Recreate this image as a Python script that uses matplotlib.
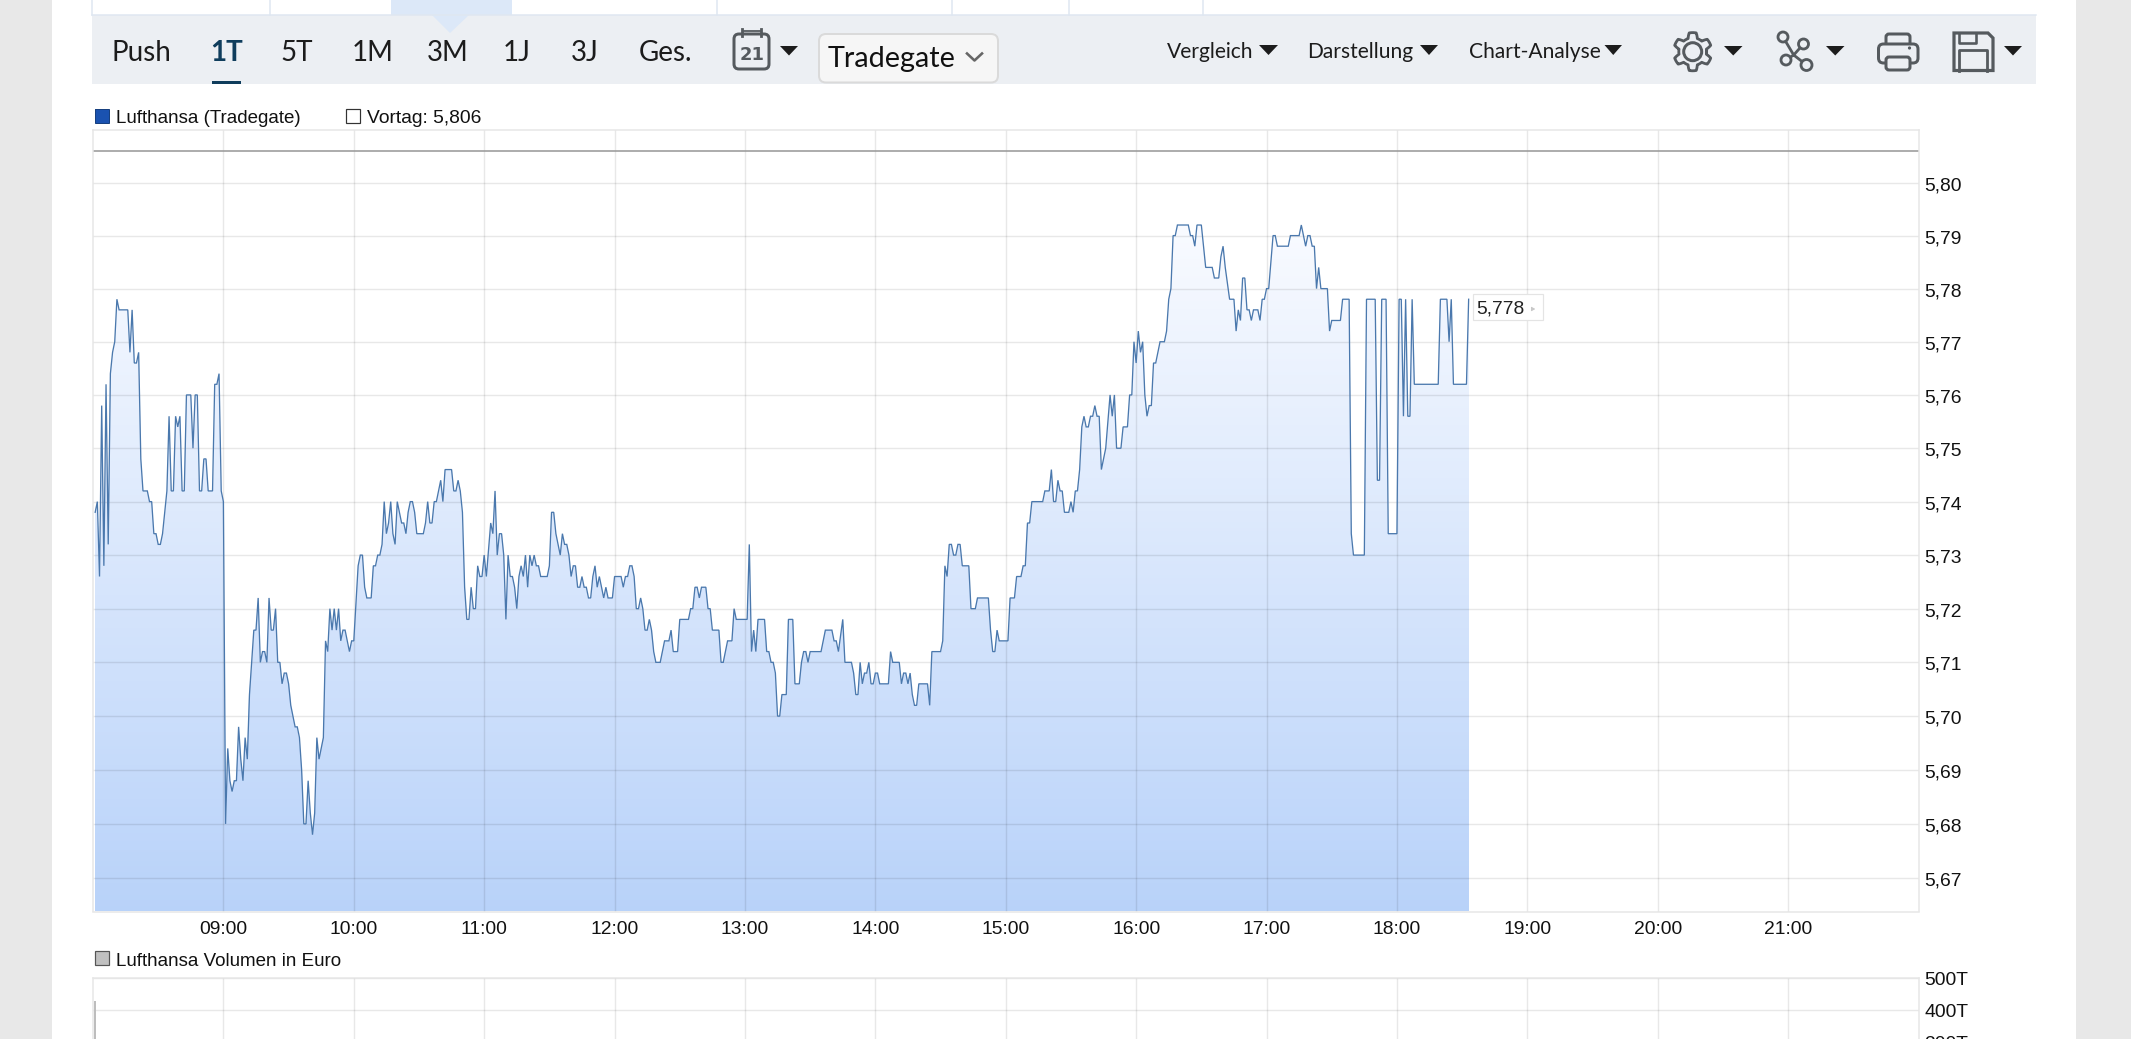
import numpy as np
import matplotlib
matplotlib.use("Agg")
from matplotlib import pyplot as plt
from matplotlib.colors import LinearSegmentedColormap
from matplotlib.patches import Rectangle, Polygon, FancyBboxPatch, Circle
from matplotlib.ticker import FuncFormatter, FixedLocator, NullLocator
from matplotlib.transforms import ScaledTranslation

# minutes after 08:00
minutes = [
    1, 2, 3, 4, 5, 6, 7, 8, 9, 10,
    11, 12, 16, 17, 18, 19, 20, 21, 22, 23,
    25, 26, 27, 28, 29, 30, 31, 32, 33, 34,
    35, 36, 37, 38, 39, 40, 41, 42, 43, 45,
    46, 47, 48, 49, 50, 51, 52, 53, 55, 56,
    57, 58, 59, 60,
    61, 62, 63, 64, 65, 66, 67, 68, 69, 70,
    71, 72, 73, 74, 75, 76, 77, 78, 79, 80,
    81, 82, 83, 84, 85, 86, 87, 88, 89, 90,
    91, 92, 93, 94, 95, 96, 97, 98, 99, 100,
    101, 102, 103, 104, 105, 106, 107, 108, 109, 110,
    111, 112, 113, 114, 115, 116, 117, 118, 119, 120,
    122, 123, 124, 125, 126, 128, 129, 130, 131, 132,
    133, 134, 135, 136, 137, 138, 139, 140, 141, 142,
    143, 144, 145, 146, 147, 148, 149, 152, 153, 154,
    155, 156, 157, 158, 159, 160, 161, 162, 165, 166,
    167, 168, 169, 170, 171, 172, 173, 174, 175, 176,
    177, 178, 179,
    180, 181, 183, 184, 185, 186, 187, 188, 189, 190,
    191, 192, 193, 194, 195, 196, 197, 198, 199, 200,
    201, 202, 203, 204, 205, 206, 209, 210, 211, 212,
    213, 215, 216, 217, 218, 219, 220, 221, 222, 223,
    224, 225, 226, 227, 228, 229, 230, 231, 232, 233,
    234, 235, 236, 237, 239, 240, 243, 244, 245, 246,
    247, 248, 249, 250, 251, 252, 253, 254, 255, 256,
    257, 258, 259, 261, 262, 263, 265, 266, 267, 269,
    270, 274, 275, 276, 277, 278, 279, 280, 282, 283,
    284, 285, 288, 289, 290, 291, 292, 294, 295, 296,
    301, 302, 303, 304, 305, 306, 309, 310, 311, 312,
    313, 314, 315, 316, 317, 319, 320, 322, 323, 325,
    326, 327, 328, 329, 330, 335, 336, 337, 340, 341,
    342, 343, 345, 346, 349, 350, 351, 352, 353, 354,
    355, 356, 357, 358, 359, 360, 361, 362, 366, 367,
    368, 371, 372, 373, 374, 375, 376, 377, 378, 379,
    380, 384, 385, 386, 390, 391, 392, 393, 394, 395,
    396, 397, 398, 399,
    400, 403, 404, 406, 407, 412, 413, 414, 415, 416,
    417, 421, 422, 424, 425, 427, 428, 429, 430, 431,
    432, 437, 438, 440, 441, 442, 443, 444, 445, 446,
    447, 449, 450, 451, 452, 453, 454, 455, 456, 457,
    458, 459, 460, 461, 462, 463, 464, 466, 468, 469,
    470, 471, 473, 474, 476, 477, 478, 479, 480, 481,
    482, 483, 484, 485, 486, 487, 488, 489, 490, 491,
    493, 494, 495, 496, 497, 498, 499, 504, 505, 506,
    507, 508, 510, 511, 512, 515, 516, 518, 519, 520,
    521, 523, 525, 526, 527, 528, 529, 530, 531, 532,
    533, 534, 536, 537, 538, 539, 540, 541, 543, 544,
    545, 550, 551, 555, 556, 557, 558, 559, 560, 561,
    562, 563, 564, 565, 568, 569, 570, 574, 575, 578,
    579, 580, 585, 586, 590, 591, 592, 593, 595, 596,
    600, 601, 602, 603, 604, 605, 606, 607, 608, 619,
    620, 623, 624, 625, 626, 632, 633,
]
prices = [
    5.738, 5.74, 5.726, 5.758, 5.728, 5.762, 5.732, 5.764, 5.768, 5.77,
    5.778, 5.776, 5.776, 5.768, 5.776, 5.766, 5.766, 5.768, 5.748, 5.742,
    5.742, 5.74, 5.74, 5.734, 5.734, 5.732, 5.732, 5.734, 5.738, 5.742,
    5.756, 5.742, 5.742, 5.756, 5.754, 5.756, 5.742, 5.742, 5.76, 5.76,
    5.75, 5.76, 5.76, 5.742, 5.742, 5.748, 5.748, 5.742, 5.742, 5.762,
    5.762, 5.764, 5.742, 5.74,
    5.68, 5.694, 5.688, 5.686, 5.688, 5.688, 5.698, 5.692, 5.688, 5.696,
    5.692, 5.704, 5.71, 5.716, 5.716, 5.722, 5.71, 5.712, 5.712, 5.71,
    5.722, 5.716, 5.716, 5.72, 5.71, 5.71, 5.706, 5.708, 5.708, 5.706,
    5.702, 5.70, 5.698, 5.698, 5.696, 5.69, 5.68, 5.68, 5.688, 5.682,
    5.678, 5.682, 5.696, 5.692, 5.694, 5.696, 5.714, 5.712, 5.72, 5.716,
    5.72, 5.716, 5.72, 5.714, 5.716, 5.716, 5.714, 5.712, 5.714, 5.714,
    5.728, 5.73, 5.73, 5.724, 5.722, 5.722, 5.728, 5.728, 5.73, 5.73,
    5.732, 5.74, 5.734, 5.736, 5.74, 5.734, 5.732, 5.74, 5.738, 5.736,
    5.736, 5.734, 5.738, 5.74, 5.74, 5.738, 5.734, 5.734, 5.736, 5.74,
    5.736, 5.736, 5.74, 5.74, 5.742, 5.744, 5.74, 5.746, 5.746, 5.742,
    5.742, 5.744, 5.742, 5.738, 5.724, 5.718, 5.718, 5.724, 5.72, 5.72,
    5.728, 5.726, 5.726,
    5.73, 5.726, 5.736, 5.734, 5.742, 5.73, 5.734, 5.734, 5.73, 5.718,
    5.73, 5.726, 5.726, 5.724, 5.72, 5.726, 5.728, 5.726, 5.73, 5.724,
    5.73, 5.728, 5.73, 5.728, 5.728, 5.726, 5.726, 5.728, 5.738, 5.738,
    5.734, 5.73, 5.734, 5.732, 5.732, 5.73, 5.726, 5.728, 5.728, 5.724,
    5.724, 5.726, 5.724, 5.724, 5.722, 5.722, 5.726, 5.728, 5.724, 5.726,
    5.724, 5.722, 5.724, 5.722, 5.722, 5.726, 5.726, 5.724, 5.726, 5.726,
    5.728, 5.728, 5.726, 5.72, 5.72, 5.722, 5.72, 5.716, 5.716, 5.718,
    5.716, 5.712, 5.71, 5.71, 5.712, 5.714, 5.714, 5.716, 5.712, 5.712,
    5.718, 5.718, 5.72, 5.72, 5.724, 5.724, 5.722, 5.724, 5.724, 5.72,
    5.72, 5.716, 5.716, 5.71, 5.71, 5.712, 5.714, 5.714, 5.72, 5.718,
    5.718, 5.732, 5.712, 5.716, 5.712, 5.718, 5.718, 5.712, 5.712, 5.71,
    5.71, 5.708, 5.70, 5.70, 5.704, 5.704, 5.718, 5.718, 5.706, 5.706,
    5.71, 5.712, 5.712, 5.71, 5.712, 5.712, 5.714, 5.716, 5.716, 5.714,
    5.714, 5.712, 5.718, 5.71, 5.71, 5.708, 5.704, 5.704, 5.71, 5.706,
    5.708, 5.708, 5.71, 5.706, 5.706, 5.708, 5.708, 5.706, 5.706, 5.712,
    5.71, 5.71, 5.706, 5.708, 5.708, 5.706, 5.708, 5.704, 5.702, 5.702,
    5.706, 5.706, 5.702, 5.712, 5.712, 5.714, 5.728, 5.726, 5.732, 5.732,
    5.73, 5.73, 5.732, 5.732,
    5.728, 5.728, 5.72, 5.72, 5.722, 5.722, 5.716, 5.712, 5.712, 5.716,
    5.714, 5.714, 5.722, 5.722, 5.726, 5.726, 5.728, 5.728, 5.736, 5.736,
    5.74, 5.74, 5.742, 5.742, 5.746, 5.74, 5.74, 5.744, 5.742, 5.742,
    5.738, 5.738, 5.74, 5.738, 5.742, 5.742, 5.746, 5.754, 5.756, 5.754,
    5.754, 5.756, 5.756, 5.758, 5.756, 5.756, 5.746, 5.75, 5.76, 5.756,
    5.76, 5.75, 5.75, 5.754, 5.754, 5.76, 5.76, 5.77, 5.766, 5.772,
    5.768, 5.77, 5.76, 5.756, 5.758, 5.758, 5.766, 5.766, 5.768, 5.77,
    5.77, 5.772, 5.778, 5.78, 5.79, 5.79, 5.792, 5.792, 5.79, 5.79,
    5.788, 5.792, 5.792, 5.788, 5.784, 5.784, 5.782, 5.782, 5.786, 5.788,
    5.784, 5.778, 5.778, 5.772, 5.776, 5.774, 5.782, 5.782, 5.776, 5.776,
    5.774, 5.776, 5.776, 5.774, 5.778, 5.778, 5.78, 5.78, 5.79, 5.79,
    5.788, 5.788, 5.79, 5.79, 5.792, 5.79, 5.788, 5.79, 5.79, 5.788,
    5.788, 5.78, 5.784, 5.78, 5.78, 5.772, 5.774, 5.774, 5.778, 5.778,
    5.734, 5.73, 5.73, 5.778, 5.778, 5.744, 5.744, 5.778, 5.778, 5.734,
    5.734, 5.778, 5.778, 5.756, 5.778, 5.756, 5.756, 5.778, 5.762, 5.762,
    5.778, 5.778, 5.77, 5.778, 5.762, 5.762, 5.778,
]
y_ticks = [5.67, 5.68, 5.69, 5.70, 5.71, 5.72, 5.73, 5.74, 5.75, 5.76, 5.77, 5.78, 5.79, 5.80]
x_ticks = [60 * i for i in range(1, 14)]  # 09:00 ... 21:00
vortag = 5.806
last_price = "5,778"

volume_minutes = [1]
volume_values = [427]
volume_ticks = [300, 400, 500]

menu_left = ["Push", "1T", "5T", "1M", "3M", "1J", "3J", "Ges."]
menu_left_x = [112, 210.5, 280.5, 352, 426.5, 503, 571, 639]
menu_right = ["Vergleich", "Darstellung", "Chart-Analyse"]
menu_right_x = [1167, 1307, 1468.5]

W, H = 2131, 1039
CHART = "Liberation Sans"
MENU = "Lato"
ICON = "#555a5e"
px = 0.72  # one pixel in points at dpi 100

fig = plt.figure(figsize=(W / 100, H / 100), dpi=100, facecolor="white")


def axes_px(left, top, right, bottom):
    return fig.add_axes([left / W, 1 - bottom / H, (right - left) / W, (bottom - top) / H])


# page furniture, drawn in pixel coordinates
bg = axes_px(0, 0, W, H)
bg.set_xlim(0, W)
bg.set_ylim(H, 0)
bg.axis("off")


def rect(x0, y0, x1, y1, color, **kw):
    bg.add_patch(Rectangle((x0, y0), x1 - x0, y1 - y0, facecolor=color, edgecolor="none", **kw))


def tri(x0, x1, y0, y1, color="#1c1c1c"):
    bg.add_patch(Polygon([(x0, y0), (x1, y0), ((x0 + x1) / 2, y1)], facecolor=color, edgecolor="none"))


def round_box(x0, y0, x1, y1, r, ec=ICON, fc="none", lw=2.2, z=3):
    bg.add_patch(FancyBboxPatch((x0 + r, y0 + r), x1 - x0 - 2 * r, y1 - y0 - 2 * r,
                                boxstyle="round,pad=%f,rounding_size=%f" % (r, r),
                                ec=ec, fc=fc, lw=lw * px, zorder=z))


rect(0, 0, 52, H, "#e8e8e8")
rect(2076, 0, W, H, "#e8e8e8")

# tab row cut off at the top
rect(390.5, 0, 512, 15, "#dce8f8")
for x in [92, 270, 717, 952, 1069, 1203]:
    bg.plot([x, x], [0, 15], color="#dfe7f1", lw=1.5 * px)
bg.plot([92, 2036], [15, 15], color="#dfe7f1", lw=1.5 * px)

# toolbar
rect(92, 15, 2036, 84, "#eceff3")
bg.add_patch(Polygon([(432, 15), (469, 15), (450, 33)], facecolor="#dce8f8", edgecolor="none"))
for label, x in zip(menu_left, menu_left_x):
    c = "#0f3d5c" if label == "1T" else "#1c1c1c"
    bg.text(x, 53, label, family=MENU, fontsize=27.8 * px, color=c, va="center", ha="left",
            fontweight="bold" if label == "1T" else "normal")
rect(211.5, 81, 241, 84, "#0f3d5c")
for label, x in zip(menu_right, menu_right_x):
    bg.text(x, 52.5, label, family=MENU, fontsize=21 * px, color="#1c1c1c", va="center", ha="left")
for x0, x1 in [(1259, 1278), (1420, 1438), (1604.5, 1622)]:
    tri(x0, x1, 45, 55)
for x0, x1 in [(780, 798), (1724, 1742.5), (1826, 1844.5), (2004, 2022)]:
    tri(x0, x1, 46, 55.5)

# calendar icon
round_box(734, 34, 769, 69, 5, lw=3)
bg.plot([743, 760], [31, 31], color=ICON, lw=1.8 * px)
for x in [742, 761]:
    bg.plot([x, x], [29, 36], color=ICON, lw=2.8 * px)
bg.text(751.7, 54.5, "21", family="DejaVu Sans", fontweight="bold", fontsize=18 * px, color=ICON,
        ha="center", va="center", zorder=4)

# exchange selector
round_box(819, 34, 998, 82.5, 7, ec="#dadada", fc="#f6f6f6", lw=2)
bg.text(828, 59.5, "Tradegate", family=MENU, fontsize=28.8 * px, color="#111111", va="center", ha="left", zorder=4)
bg.plot([967, 974.5, 982], [53.5, 60.5, 53.5], color="#666666", lw=2.6 * px, zorder=4)

# gear
cx, cy = 1692.7, 51.7
ang = np.linspace(0, 2 * np.pi, 241)
rad = 16.5 + 2.6 * np.clip(2.2 * np.cos(6 * (ang + np.pi / 2)), -1, 1)
bg.plot(cx + rad * np.cos(ang), cy + rad * np.sin(ang), color=ICON, lw=2.8 * px)
bg.add_patch(Circle((cx, cy), 9, fc="none", ec=ICON, lw=3 * px))

# share icon
nodes = [(1783, 37, 5), (1803.5, 44, 5), (1786, 60, 5), (1806.5, 65, 5.5)]
for nx, ny, nr in nodes:
    bg.plot([1793.7, nx], [55, ny], color=ICON, lw=2.8 * px, zorder=2)
    bg.add_patch(Circle((nx, ny), nr, fc="#eceff3", ec=ICON, lw=2.8 * px, zorder=3))

# printer
round_box(1886, 34, 1910, 50, 3, lw=3, z=2)
round_box(1878.5, 44, 1918, 63, 5, fc="#eceff3", lw=3, z=3)
round_box(1886, 57, 1910, 70, 3, fc="#eceff3", lw=3, z=4)
bg.add_patch(Circle((1909.5, 48), 1.6, fc=ICON, ec="none", zorder=5))

# floppy
bg.add_patch(Polygon([(1954, 33), (1988, 33), (1993, 38), (1993, 70.5), (1954, 70.5)],
                     fc="none", ec=ICON, lw=3.2 * px))
bg.plot([1959, 1959, 1976, 1976], [33, 42.5, 42.5, 33], color=ICON, lw=2.6 * px)
bg.plot([1959, 1959, 1987, 1987], [70.5, 50, 50, 70.5], color=ICON, lw=2.8 * px)

# legends
rect(94.5, 109, 109, 123, "#1a52b0")
bg.add_patch(Rectangle((94.5, 109), 14.5, 14, fc="none", ec="#17407f", lw=1 * px))
bg.text(116.5, 118.5, "Lufthansa (Tradegate)", family=CHART, fontsize=18.8 * px, color="#111111", va="center")
bg.add_patch(Rectangle((346, 109), 14, 14, fc="white", ec="#333333", lw=1.2 * px))
bg.text(367, 118.5, "Vortag: 5,806", family=CHART, fontsize=19.3 * px, color="#111111", va="center")
bg.add_patch(Rectangle((95, 951), 13.5, 14, fc="#c0c0c0", ec="#555555", lw=1.2 * px))
bg.text(116.5, 961, "Lufthansa Volumen in Euro", family=CHART, fontsize=18.8 * px, color="#111111", va="center")


def style_axes(ax):
    ax.set_xlim(0, 840)
    ax.xaxis.set_major_locator(FixedLocator(x_ticks))
    ax.grid(True, color="black", alpha=0.09, lw=1.4 * px)
    ax.set_axisbelow("line")
    for s in ax.spines.values():
        s.set_color("#e6e6e6")
        s.set_linewidth(1.5 * px)
    ax.yaxis.tick_right()
    ax.tick_params(length=0, labelsize=19.3 * px, labelcolor="#111111")
    for t in ax.get_xticklabels() + ax.get_yticklabels():
        t.set_fontfamily(CHART)


# price panel, the gridlines widen downwards so the axis is logarithmic
ax = axes_px(93, 130, 1918.5, 911.5)
ax.set_zorder(1)
ymin, ymax = 5.6638, 5.80997
ax.set_yscale("log")
ax.set_ylim(ymin, ymax)
ax.yaxis.set_major_locator(FixedLocator(y_ticks))
ax.yaxis.set_minor_locator(NullLocator())
ax.yaxis.set_major_formatter(FuncFormatter(lambda v, _: ("%.2f" % v).replace(".", ",")))
ax.xaxis.set_major_formatter(FuncFormatter(lambda v, _: "%02d:00" % (8 + round(v / 60))))
style_axes(ax)
ax.tick_params(axis="y", pad=4)
ax.tick_params(axis="x", pad=6.5)
drop = ScaledTranslation(0, -1.0 / 100, fig.dpi_scale_trans)
for t in ax.get_yticklabels():
    t.set_transform(t.get_transform() + drop)

cmap = LinearSegmentedColormap.from_list("fill", ["#b8d2f9", "#fbfcff"])
shade = np.linspace(0, 1, 256)[:, None]
grad = ax.pcolormesh([0, 840], np.linspace(ymin, 5.797, 257), shade, cmap=cmap, zorder=1)
ax.set_xlim(0, 840)
ax.set_ylim(ymin, ymax)
area = ax.fill_between(minutes, prices, ymin, facecolor="none", edgecolor="none")
grad.set_clip_path(area.get_paths()[0], transform=ax.transData)

ax.axhline(vortag, color="#9a9a9a", lw=1.6 * px, zorder=2)
ax.plot(minutes, prices, color="#4a78ad", lw=1.3 * px, zorder=3, solid_joinstyle="miter")

# last price label
bg.set_zorder(2)
bg.patch.set_visible(False)
rect(1473, 294, 1543, 320, "white", zorder=5)
bg.add_patch(Rectangle((1473, 294), 70, 26, fc="none", ec="#e4e4e4", lw=1.2 * px, zorder=6))
bg.text(1476.5, 309, last_price, family=CHART, fontsize=19.3 * px, color="#222222", va="center", zorder=6)
bg.annotate("", xy=(1538, 309), xytext=(1530, 309),
            arrowprops=dict(arrowstyle="-|>,head_width=0.12,head_length=0.2", color="#c8c8c8", lw=1 * px), zorder=6)

# volume panel, runs past the bottom of the page
vol = axes_px(93, 977.5, 1918.5, 1073.5)
vol.set_zorder(1)
vol.set_ylim(200, 500)
vol.yaxis.set_major_locator(FixedLocator(volume_ticks))
vol.yaxis.set_major_formatter(FuncFormatter(lambda v, _: "%dT" % v))
vol.xaxis.set_major_formatter(FuncFormatter(lambda v, _: ""))
style_axes(vol)
vol.tick_params(axis="y", pad=4)
for t in vol.get_yticklabels():
    t.set_transform(t.get_transform() + drop)
vol.bar(volume_minutes, volume_values, width=1.0, color="#bdbdbd", zorder=3)

fig.savefig("out.png", dpi=100)
